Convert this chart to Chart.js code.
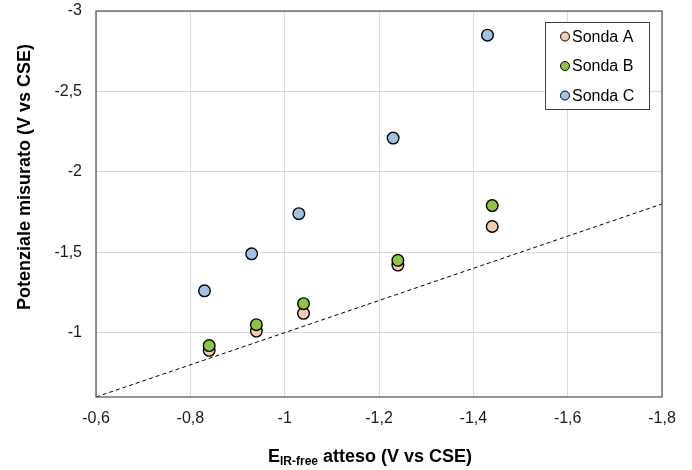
<!DOCTYPE html>
<html>
<head>
<meta charset="utf-8">
<script src="https://cdn.jsdelivr.net/npm/chart.js@4"></script>
<style>
  html, body { margin: 0; padding: 0; background: #fff; }
</style>
</head>
<body>
<canvas id="myChart" width="692" height="470"></canvas>
<script>
// values
const xAB = [-0.84, -0.94, -1.04, -1.24, -1.44];
const xC = [-0.83, -0.93, -1.03, -1.23, -1.43];
const sondaA = [-0.89, -1.01, -1.12, -1.42, -1.66];
const sondaB = [-0.92, -1.05, -1.18, -1.45, -1.79];
const sondaC = [-1.26, -1.49, -1.74, -2.21, -2.85];
const refLine = [-0.6, -1.8];
const seriesNames = ['Sonda A', 'Sonda B', 'Sonda C'];
const xTicks = [-0.6, -0.8, -1, -1.2, -1.4, -1.6, -1.8];
const yTicks = [-1, -1.5, -2, -2.5, -3];

const FONT = '"Liberation Sans", Arial, sans-serif';
const fmt = (v) => String(v).replace('.', ',');
const pts = (xs, ys) => xs.map((x, i) => ({ x: x, y: ys[i] }));

// axis titles, frame and boxed legend
const decorations = {
  id: 'decorations',
  afterDraw(chart) {
    const ctx = chart.ctx;
    const a = chart.chartArea;
    ctx.save();
    ctx.strokeStyle = '#595959';
    ctx.lineWidth = 1.3;
    ctx.strokeRect(a.left, a.top, a.right - a.left, a.bottom - a.top);

    // y title
    ctx.fillStyle = '#000';
    ctx.font = 'bold 18px ' + FONT;
    ctx.textAlign = 'center';
    ctx.textBaseline = 'middle';
    ctx.translate(25, 177);
    ctx.rotate(-Math.PI / 2);
    ctx.fillText('Potenziale misurato (V vs CSE)', 0, 0);
    ctx.setTransform(1, 0, 0, 1, 0, 0);

    // x title with subscript
    const big = 'bold 18px ' + FONT;
    const small = 'bold 12px ' + FONT;
    ctx.textAlign = 'left';
    ctx.textBaseline = 'alphabetic';
    ctx.font = big;
    const wE = ctx.measureText('E').width;
    const wRest = ctx.measureText(' atteso (V vs CSE)').width;
    ctx.font = small;
    const wSub = ctx.measureText('IR-free').width;
    let x = 370 - (wE + wSub + wRest) / 2;
    const base = 461.5;
    ctx.font = big;
    ctx.fillText('E', x, base);
    x += wE;
    ctx.font = small;
    ctx.fillText('IR-free', x, base + 3);
    x += wSub;
    ctx.font = big;
    ctx.fillText(' atteso (V vs CSE)', x, base);

    // legend
    ctx.fillStyle = '#fff';
    ctx.fillRect(545.5, 22.5, 104, 87);
    ctx.strokeStyle = '#404040';
    ctx.lineWidth = 1;
    ctx.strokeRect(545.5, 22.5, 104, 87);
    ctx.font = '16px ' + FONT;
    ctx.textBaseline = 'middle';
    const ys = [36.5, 66, 95.5];
    chart.data.datasets.filter(d => d.label).forEach((d, i) => {
      ctx.beginPath();
      ctx.arc(565, ys[i], 4.5, 0, Math.PI * 2);
      ctx.fillStyle = d.backgroundColor;
      ctx.fill();
      ctx.strokeStyle = '#000';
      ctx.lineWidth = 1;
      ctx.stroke();
      ctx.fillStyle = '#000';
      ctx.fillText(d.label, 572, ys[i] + 1);
    });
    ctx.restore();
  }
};

const pointStyle = (color, order) => ({
  backgroundColor: color,
  borderColor: '#000',
  borderWidth: 1.4,
  pointRadius: 5.8,
  pointHoverRadius: 5.8,
  order: order
});

new Chart(document.getElementById('myChart').getContext('2d'), {
  type: 'scatter',
  data: {
    datasets: [
      Object.assign({ label: seriesNames[0], data: pts(xAB, sondaA) }, pointStyle('#F8CBAD', 3)),
      Object.assign({ label: seriesNames[1], data: pts(xAB, sondaB) }, pointStyle('#8CC540', 2)),
      Object.assign({ label: seriesNames[2], data: pts(xC, sondaC) }, pointStyle('#9DC3E6', 1)),
      {
        label: '',
        data: pts(refLine, refLine),
        showLine: true,
        borderColor: '#000',
        borderWidth: 1,
        borderDash: [4, 3],
        pointRadius: 0,
        order: 5
      }
    ]
  },
  options: {
    responsive: false,
    animation: false,
    layout: { padding: { top: 11, right: 30, left: 0, bottom: 0 } },
    plugins: {
      legend: { display: false },
      tooltip: { enabled: false }
    },
    scales: {
      x: {
        type: 'linear',
        min: -1.8,
        max: -0.6,
        reverse: true,
        afterBuildTicks: (scale) => { scale.ticks = xTicks.map(v => ({ value: v })); },
        afterFit: (scale) => { scale.height = 73; scale.paddingLeft = 0; scale.paddingRight = 0; },
        grid: { color: '#d9d9d9', lineWidth: 1, drawTicks: false },
        border: { display: false },
        ticks: {
          padding: 12,
          color: '#1a1a1a',
          font: { family: FONT, size: 16 },
          maxRotation: 0,
          callback: fmt
        }
      },
      y: {
        type: 'linear',
        min: -3,
        max: -0.6,
        reverse: true,
        afterBuildTicks: (scale) => { scale.ticks = yTicks.map(v => ({ value: v })); },
        afterFit: (scale) => { scale.width = 96; scale.paddingTop = 0; scale.paddingBottom = 0; },
        grid: { color: '#d9d9d9', lineWidth: 1, drawTicks: false },
        border: { display: false },
        ticks: {
          padding: 14,
          color: '#1a1a1a',
          font: { family: FONT, size: 16 },
          callback: fmt
        }
      }
    }
  },
  plugins: [decorations]
});
</script>
</body>
</html>
